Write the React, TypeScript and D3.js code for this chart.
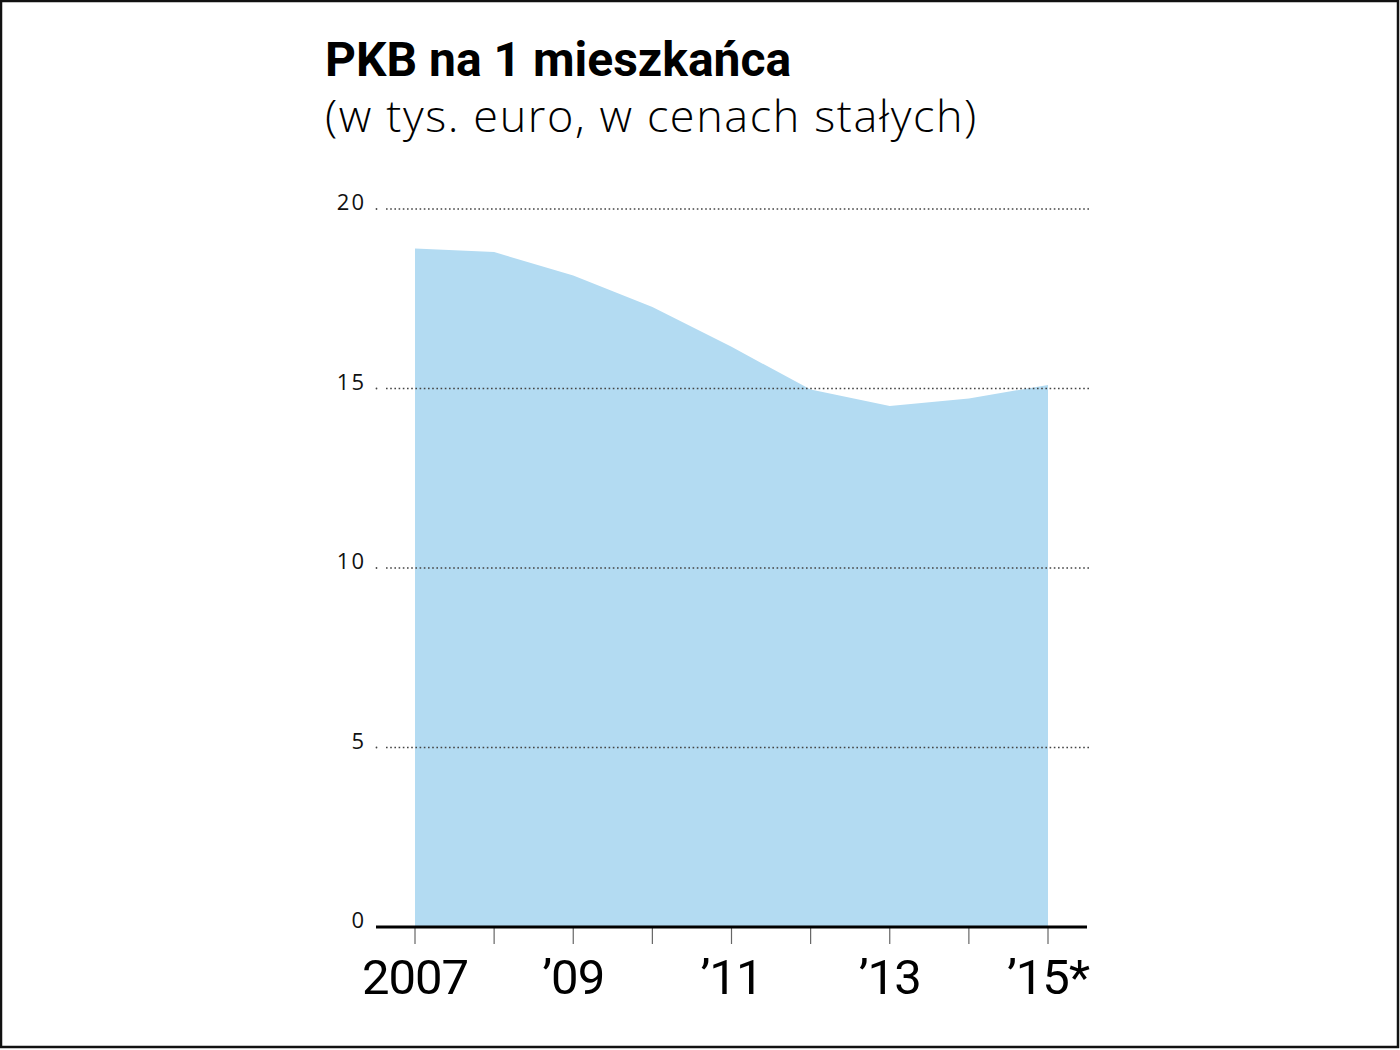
import React from "react";
import * as d3 from "d3";

const years = [2007, 2008, 2009, 2010, 2011, 2012, 2013, 2014, 2015];
const gdpPerCapita = [18.9, 18.8, 18.15, 17.27, 16.16, 14.97, 14.51, 14.72, 15.1];
const yTicks = [0, 5, 10, 15, 20];
const xTickLabels: [number, string][] = [
  [2007, "2007"],
  [2009, "\u201909"],
  [2011, "\u201911"],
  [2013, "\u201913"],
  [2015, "\u201915*"],
];
const title = "PKB na 1 mieszkańca";
const subtitle = "(w tys. euro, w cenach stałych)";

const W = 1400;
const H = 1050;

export default function App() {
  const x = d3.scaleLinear().domain([2007, 2015]).range([415, 1048]);
  const y = d3.scaleLinear().domain([0, 20]).range([927, 209]);
  const data = years.map((yr, i) => ({ yr, v: gdpPerCapita[i] }));
  const area = d3
    .area<{ yr: number; v: number }>()
    .x((d) => x(d.yr))
    .y0(y(0))
    .y1((d) => y(d.v));

  return (
    <svg
      width={W}
      height={H}
      style={{ position: "absolute", left: 0, top: 0, background: "#fff" }}
    >
      <rect x={1} y={1} width={W - 3} height={H - 4} fill="#fff" stroke="#111" strokeWidth={2.5} />
      <text x={325} y={76} fontFamily="'Roboto', sans-serif" fontWeight={700} fontSize={48} fill="#000">
        {title}
      </text>
      <text
        x={325}
        y={132}
        fontFamily="'Open Sans', sans-serif"
        fontWeight={300}
        fontSize={45}
        letterSpacing={1.6}
        fill="#000"
      >
        {subtitle}
      </text>

      <path d={area(data) || ""} fill="#b3dbf2" />

      {yTicks.filter((t) => t > 0).map((t) => (
        <g key={"g" + t}>
          <circle cx={376.5} cy={y(t)} r={0.9} fill="#444" />
          <line
            x1={386}
            x2={1089}
            y1={y(t)}
            y2={y(t)}
            stroke="#444"
            strokeWidth={1.6}
            strokeDasharray="1.6 2.6"
          />
        </g>
      ))}

      {yTicks.map((t) => (
        <text
          key={"yl" + t}
          x={366}
          y={y(t) + 1}
          textAnchor="end"
          fontFamily="'Open Sans', sans-serif"
          fontSize={22}
          letterSpacing={2}
          fill="#111"
        >
          {t}
        </text>
      ))}

      {years.map((yr) => (
        <line key={"t" + yr} x1={x(yr)} x2={x(yr)} y1={927} y2={944} stroke="#666" strokeWidth={1.2} />
      ))}
      <line x1={376} x2={1087} y1={y(0)} y2={y(0)} stroke="#000" strokeWidth={3} />

      {xTickLabels.map(([yr, lab]) => (
        <text
          key={"xl" + yr}
          x={x(yr)}
          y={994}
          textAnchor="middle"
          fontFamily="'Roboto', sans-serif"
          fontSize={49}
          letterSpacing={-1}
          fill="#000"
        >
          {lab}
        </text>
      ))}
    </svg>
  );
}
